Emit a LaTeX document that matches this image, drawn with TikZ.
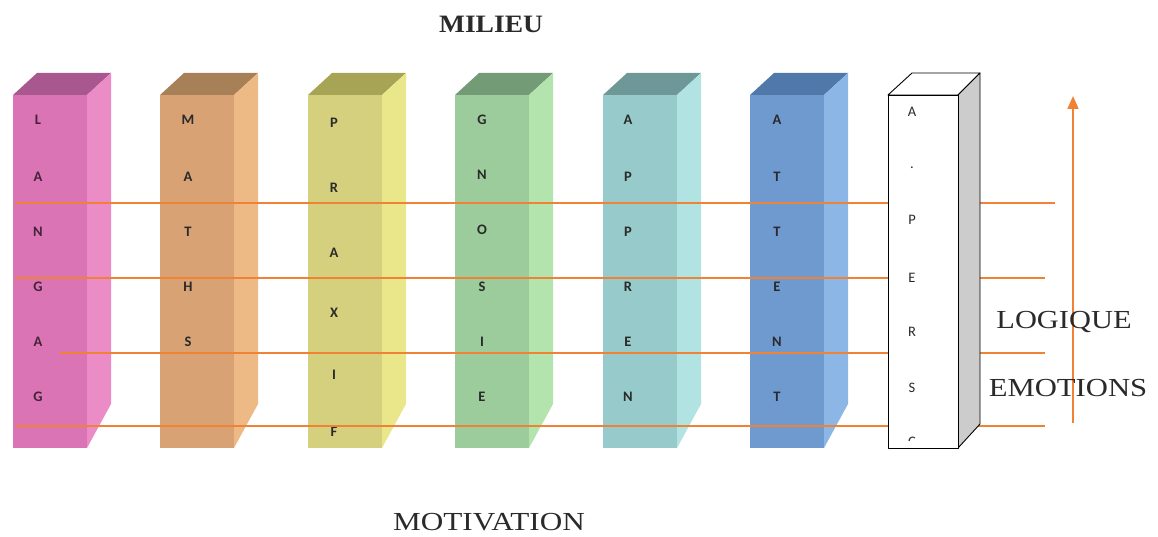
\documentclass[tikz,border=0pt]{standalone}
\usepackage{fontspec}
\usepackage{graphicx}
\setmainfont{Liberation Serif}
\newfontfamily\lettersfont{Carlito}
\usetikzlibrary{arrows.meta}

\definecolor{lgFront}{HTML}{DB74B4}\definecolor{lgSide}{HTML}{EC8CC6}\definecolor{lgTop}{HTML}{A9588F}
\definecolor{maFront}{HTML}{D8A274}\definecolor{maSide}{HTML}{EDB984}\definecolor{maTop}{HTML}{A88058}
\definecolor{prFront}{HTML}{D4D07E}\definecolor{prSide}{HTML}{EAE78A}\definecolor{prTop}{HTML}{A8A456}
\definecolor{gnFront}{HTML}{9CCB9C}\definecolor{gnSide}{HTML}{B3E4AE}\definecolor{gnTop}{HTML}{739B76}
\definecolor{apFront}{HTML}{97CACA}\definecolor{apSide}{HTML}{B0E3E1}\definecolor{apTop}{HTML}{6E9898}
\definecolor{atFront}{HTML}{6E9AD0}\definecolor{atSide}{HTML}{8BB6E6}\definecolor{atTop}{HTML}{5078A8}
\definecolor{axis}{HTML}{F08236}
\definecolor{ink}{HTML}{2A2A2A}

\tikzset{
  face/.style={draw=none},
  wface/.style={draw=black, line width=0.9pt, line join=round},
  letter/.style={font=\lettersfont\bfseries\fontsize{14.5}{14.5}\selectfont, text=#1, inner sep=0pt, anchor=center},
  letter/.default=ink,
  lightletter/.style={font=\lettersfont\fontsize{14.5}{14.5}\selectfont, text=ink, inner sep=0pt, anchor=center},
  axisline/.style={draw=axis, line width=1.8pt},
  label/.style={font=\fontsize{26}{26}\selectfont, text=ink, inner sep=0pt}
}

% coloured column: #1 left x of front face, #2 colour prefix
\newcommand\colourcolumn[2]{%
  \fill[#2Top]   (#1,95) -- (#1+24,73) -- (#1+98,73) -- (#1+74,95) -- cycle;
  \fill[#2Side]  (#1+74,95) -- (#1+98,73) -- (#1+98,404) -- (#1+74,448) -- cycle;
  \fill[#2Front] (#1,95) rectangle (#1+74,448);
}

\begin{document}
\begin{tikzpicture}[x=1pt,y=-1pt]
  \useasboundingbox (0,0) rectangle (1158,537);

  % the six coloured columns
  \colourcolumn{13}{lg}
  \colourcolumn{160}{ma}
  \colourcolumn{308}{pr}
  \colourcolumn{455}{gn}
  \colourcolumn{603}{ap}
  \colourcolumn{750}{at}

  % LANGAGE
  \foreach \c/\y [count=\i] in {L/120,A/177,N/232,G/287,A/342,G/397}
    \node[letter=lgTop!40!black] (lg\i) at (38,\y) {\c};
  % MATHS
  \foreach \c/\y [count=\i] in {M/120,A/177,T/232,H/287,S/342}
    \node[letter] (ma\i) at (188,\y) {\c};
  % PRAXIE
  \foreach \c/\y [count=\i] in {P/123,R/188,A/253,X/313,I/375,F/432}
    \node[letter] (pr\i) at (334,\y) {\c};
  % GNOSIE
  \foreach \c/\y [count=\i] in {G/120,N/175,O/230,S/287,I/342,E/397}
    \node[letter] (gn\i) at (482,\y) {\c};
  % APPREN
  \foreach \c/\y [count=\i] in {A/120,P/177,P/232,R/287,E/342,N/397}
    \node[letter] (ap\i) at (628,\y) {\c};
  % ATTENT
  \foreach \c/\y [count=\i] in {A/120,T/177,T/232,E/287,N/342,T/397}
    \node[letter] (at\i) at (777,\y) {\c};

  % horizontal orange levels
  \coordinate (h1a) at (15,203);  \coordinate (h1b) at (1055,203);
  \coordinate (h2a) at (15,278);  \coordinate (h2b) at (1045,278);
  \coordinate (h3a) at (60,353);  \coordinate (h3b) at (1045,353);
  \coordinate (h4a) at (15,426);  \coordinate (h4b) at (1045,426);
  \foreach \k in {1,...,4}
    \draw[axisline] (h\k a) -- (h\k b);

  % white column in front of the levels
  \filldraw[wface, fill=white]     (888,95) -- (912,73) -- (980,73) -- (958,95) -- cycle;
  \filldraw[wface, fill=black!20]  (958,95) -- (980,73) -- (980,424) -- (958,448) -- cycle;
  \filldraw[wface, fill=white]     (888,95) rectangle (958,448);
  \begin{scope}
    \clip (888,95) rectangle (958,440);
    \foreach \c/\y [count=\i] in {A/112,./168,P/220,E/278,R/332,S/388,C/442}
      \node[lightletter] (ps\i) at (912,\y) {\c};
  \end{scope}

  % vertical arrow
  \coordinate (vb) at (1073,423);
  \coordinate (vt) at (1073,96);
  \draw[axisline, -{Triangle[length=13pt,width=11pt]}] (vb) -- (vt);

  % labels
  \node[label, font=\bfseries\fontsize{25}{25}\selectfont] (milieu) at (491,24) {\scalebox{1.1}[1]{MILIEU}};
  \node[label] (motivation) at (489,522) {\scalebox{1.2}[1]{MOTIVATION}};
  \node[label] (logique) at (1064,322) {\scalebox{1.17}[1]{LOGIQUE}};
  \node[label] (emotions) at (1068,388) {\scalebox{1.18}[1]{EMOTIONS}};
\end{tikzpicture}
\end{document}
